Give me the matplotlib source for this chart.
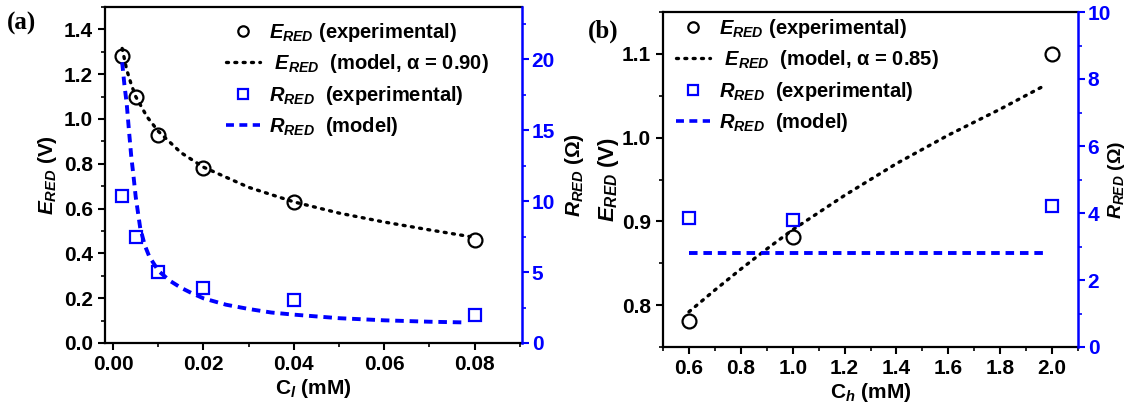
import numpy as np
import matplotlib
matplotlib.use("Agg")
import matplotlib.pyplot as plt
import matplotlib.ticker as ticker
from matplotlib.lines import Line2D

plt.rcParams['font.family'] = ['Liberation Sans', 'DejaVu Sans']
plt.rcParams['font.weight'] = 'bold'
plt.rcParams['axes.labelweight'] = 'bold'
plt.rcParams['mathtext.fontset'] = 'custom'
plt.rcParams['mathtext.it'] = 'Liberation Sans:italic:bold'
plt.rcParams['mathtext.rm'] = 'Liberation Sans:bold'
plt.rcParams['mathtext.bf'] = 'Liberation Sans:bold'

BLUE = '#0000ff'

# ---- panel (a): low concentration ----
cl_exp = [0.002, 0.005, 0.01, 0.02, 0.04, 0.08]
e_exp_a = [1.28, 1.10, 0.93, 0.78, 0.63, 0.46]
r_exp_a = [10.4, 7.5, 5.0, 3.85, 3.0, 2.0]

cl_model_e = [0.002, 0.003, 0.004, 0.005, 0.0075, 0.01, 0.015, 0.02, 0.03,
              0.04, 0.05, 0.06, 0.07, 0.079]
e_model_a = [1.315, 1.22, 1.155, 1.10, 1.01, 0.945, 0.85, 0.785, 0.695,
             0.63, 0.58, 0.54, 0.505, 0.475]

cl_model_r = [0.002, 0.0025, 0.003, 0.0035, 0.004, 0.0045, 0.005, 0.006, 0.007,
              0.008, 0.009, 0.01, 0.0125, 0.015, 0.0175, 0.02, 0.025, 0.03,
              0.035, 0.04, 0.05, 0.06, 0.07, 0.078]
r_model_a = [19.8, 18.2, 16.9, 15.0, 13.2, 11.8, 10.3, 8.1, 6.9,
             6.1, 5.6, 5.1, 4.4, 3.9, 3.5, 3.15, 2.7, 2.4,
             2.15, 2.0, 1.75, 1.6, 1.5, 1.45]

# ---- panel (b): high concentration ----
ch_exp = [0.6, 1.0, 2.0]
e_exp_b = [0.781, 0.881, 1.10]
r_exp_b = [3.85, 3.8, 4.2]

ch_model = [0.6, 0.7, 0.8, 0.9, 1.0, 1.2, 1.4, 1.6, 1.8, 1.97]
e_model_b = [0.792, 0.818, 0.843, 0.867, 0.89, 0.931, 0.969, 1.003, 1.034, 1.062]
r_model_b = [2.8] * len(ch_model)

W, H = 1131, 405
fig = plt.figure(figsize=(W / 100, H / 100), dpi=100)


def px_axes(left, top, right, bottom):
    return fig.add_axes([left / W, 1 - bottom / H, (right - left) / W, (bottom - top) / H])


DOT = (0, (0.6, 1.9))
DASH = (0, (2.2, 1.5))


def style_axes(ax, ax2):
    for s in ['left', 'top', 'bottom']:
        ax.spines[s].set_linewidth(1.6)
    ax.spines['right'].set_visible(False)
    for s in ['left', 'top', 'bottom']:
        ax2.spines[s].set_visible(False)
    ax2.spines['right'].set_color(BLUE)
    ax2.spines['right'].set_linewidth(1.8)
    ax.tick_params(which='major', direction='out', length=5, width=1.5, labelsize=15)
    ax.tick_params(which='minor', direction='out', length=3, width=1.2)
    ax.tick_params(top=False, which='both')
    ax2.tick_params(which='major', direction='out', length=5, width=1.5, labelsize=15,
                    colors=BLUE, labelcolor=BLUE, pad=2)
    ax2.tick_params(which='minor', direction='out', length=3, width=1.2, colors=BLUE)


def add_legend(ax2, alpha_txt, x0, y0):
    handles = [
        Line2D([], [], ls='none', marker='o', ms=7.5, mfc='none', mec='black', mew=1.6),
        Line2D([], [], color='black', lw=2.4, ls=DOT, dash_capstyle='round'),
        Line2D([], [], ls='none', marker='s', ms=7, mfc='none', mec=BLUE, mew=1.6),
        Line2D([], [], color=BLUE, lw=2.6, ls=DASH),
    ]
    labels = [
        r"$E_{RED}$ (experimental)",
        r" $E_{RED}$  (model, α = " + alpha_txt + ")",
        r"$R_{RED}$  (experimental)",
        r"$R_{RED}$  (model)",
    ]
    ax2.legend(handles, labels, loc='upper left', bbox_to_anchor=(x0, y0),
               frameon=False, fontsize=14.5, handlelength=1.7, handletextpad=0.45,
               labelspacing=0.42, borderpad=0, borderaxespad=0)


# panel (a)
ax = px_axes(105, 7, 522, 343)
ax2 = ax.twinx()
ax.plot(cl_model_e, e_model_a, color='black', lw=2.4, ls=DOT, dash_capstyle='round')
ax.plot(cl_exp, e_exp_a, ls='none', marker='o', ms=10, mfc='none', mec='black', mew=1.6)
ax2.plot(cl_model_r, r_model_a, color=BLUE, lw=2.8, ls=DASH)
ax2.plot(cl_exp, r_exp_a, ls='none', marker='s', ms=9, mfc='none', mec=BLUE, mew=1.6)
ax.set_xlim(-0.0018, 0.0905)
ax.set_ylim(0, 1.5)
ax2.set_ylim(0, 23.7)
ax.xaxis.set_major_locator(ticker.MultipleLocator(0.02))
ax.xaxis.set_minor_locator(ticker.MultipleLocator(0.01))
ax.xaxis.set_major_formatter(ticker.FormatStrFormatter('%.2f'))
ax.yaxis.set_major_locator(ticker.MultipleLocator(0.2))
ax.yaxis.set_minor_locator(ticker.MultipleLocator(0.1))
ax.yaxis.set_major_formatter(ticker.FormatStrFormatter('%.1f'))
ax2.yaxis.set_major_locator(ticker.MultipleLocator(5))
ax2.yaxis.set_minor_locator(ticker.MultipleLocator(2.5))
style_axes(ax, ax2)
ax.set_xlabel(r"C$_{l}$ (mM)", fontsize=15, labelpad=2)
ax.set_ylabel(r"$E_{RED}$ (V)", fontsize=15, labelpad=4)
ax2.set_ylabel(r"$R_{RED}$ (Ω)", fontsize=15, labelpad=6)
add_legend(ax2, "0.90", (226 - 105) / 417, (343 - 21) / 336)
fig.text(7 / W, 1 - 23 / H, "(a)", family='Liberation Serif', weight='bold',
         fontsize=18, va='center', ha='left')

# panel (b)
bx = px_axes(663, 12, 1078, 347)
bx2 = bx.twinx()
bx.plot(ch_model, e_model_b, color='black', lw=2.4, ls=DOT, dash_capstyle='round')
bx.plot(ch_exp, e_exp_b, ls='none', marker='o', ms=10, mfc='none', mec='black', mew=1.6)
bx2.plot(ch_model, r_model_b, color=BLUE, lw=2.8, ls=DASH)
bx2.plot(ch_exp, r_exp_b, ls='none', marker='s', ms=9, mfc='none', mec=BLUE, mew=1.6)
bx.set_xlim(0.5, 2.1)
bx.set_ylim(0.75, 1.15)
bx2.set_ylim(0, 10)
bx.xaxis.set_major_locator(ticker.MultipleLocator(0.2))
bx.xaxis.set_minor_locator(ticker.MultipleLocator(0.1))
bx.xaxis.set_major_formatter(ticker.FormatStrFormatter('%.1f'))
bx.yaxis.set_major_locator(ticker.MultipleLocator(0.1))
bx.yaxis.set_minor_locator(ticker.MultipleLocator(0.05))
bx.yaxis.set_major_formatter(ticker.FormatStrFormatter('%.1f'))
bx2.yaxis.set_major_locator(ticker.MultipleLocator(2))
bx2.yaxis.set_minor_locator(ticker.MultipleLocator(1))
style_axes(bx, bx2)
bx.set_xlabel(r"C$_{h}$ (mM)", fontsize=15, labelpad=2)
bx.set_ylabel(r"$E_{RED}$ (V)", fontsize=16, labelpad=1)
bx2.set_ylabel(r"$R_{RED}$ (Ω)", fontsize=14, labelpad=0)
bx2.yaxis.set_label_coords(1.068, 0.5)
add_legend(bx2, "0.85", (676 - 663) / 415, (347 - 17) / 335)
fig.text(588 / W, 1 - 31 / H, "(b)", family='Liberation Serif', weight='bold',
         fontsize=18, va='center', ha='left')

fig.savefig("out.png", dpi=100)
